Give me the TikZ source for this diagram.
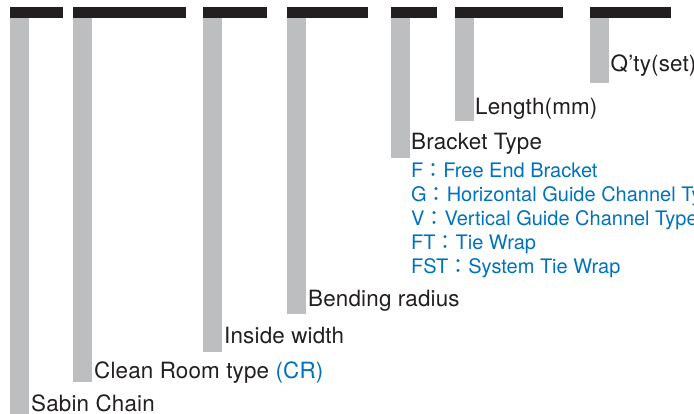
\documentclass[tikz,border=0pt]{standalone}
\usepackage{fontspec}
\setmainfont{TeX Gyre Heros}
\newfontfamily\cjk{Noto Sans CJK JP}
\newfontfamily\lblfont[LetterSpace=0.8]{TeX Gyre Heros}
\definecolor{barblack}{HTML}{231F20}
\definecolor{bargray}{HTML}{BCBEC0}
\definecolor{codeblue}{HTML}{0072BC}
\newcommand{\fcolon}{{\cjk ：}}
\begin{document}
\begin{tikzpicture}[x=1pt,y=-1pt,
  head/.style={fill=barblack},
  stem/.style={fill=bargray},
  lbl/.style={anchor=base west, inner sep=0pt, font=\lblfont\fontsize{22.4}{26}\selectfont, text=barblack},
  opt/.style={anchor=base west, inner sep=0pt, font=\fontsize{20}{24}\selectfont, text=codeblue}]
\path[use as bounding box] (0,0) rectangle (694,414);
\clip (0,0) rectangle (694,414);
% field 1: Sabin Chain
\fill[head] (10,7) rectangle (63,18);
\fill[stem] (10,18) rectangle (28.5,420);
\node[lbl] (sabin) at (31,411) {Sabin Chain};
% field 2: Clean Room type
\fill[head] (73,7) rectangle (186,18);
\fill[stem] (73,18) rectangle (91.5,382);
\node[lbl] (clean) at (94,378) {Clean Room type \textcolor{codeblue}{(CR)}};
% field 3: Inside width
\fill[head] (203,7) rectangle (267,18);
\fill[stem] (203,18) rectangle (221.5,352);
\node[lbl] (inside) at (224,343) {Inside width};
% field 4: Bending radius
\fill[head] (287,7) rectangle (368,18);
\fill[stem] (287,18) rectangle (305.5,314);
\node[lbl] (bending) at (308,307) {Bending radius};
% field 5: Bracket Type
\fill[head] (391,7) rectangle (437,18);
\fill[stem] (391,18) rectangle (409.5,158);
\node[lbl] (bracket) at (411,150) {Bracket Type};
\node[opt] (optF) at (411,178) {F\fcolon Free End Bracket};
\node[opt] (optG) at (411,202) {G\fcolon Horizontal Guide Channel Type};
\node[opt] (optV) at (411,226) {V\fcolon Vertical Guide Channel Type};
\node[opt] (optFT) at (411,250) {FT\fcolon Tie Wrap};
\node[opt] (optFST) at (411,274) {FST\fcolon System Tie Wrap};
% field 6: Length
\fill[head] (455,7) rectangle (563,18);
\fill[stem] (455,18) rectangle (473.5,121);
\node[lbl] (length) at (475,115) {Length(mm)};
% field 7: Q'ty
\fill[head] (590,7) rectangle (671,18);
\fill[stem] (590,18) rectangle (608.5,83);
\node[lbl] (qty) at (610.5,72) {Q’ty(set)};
\end{tikzpicture}
\end{document}
